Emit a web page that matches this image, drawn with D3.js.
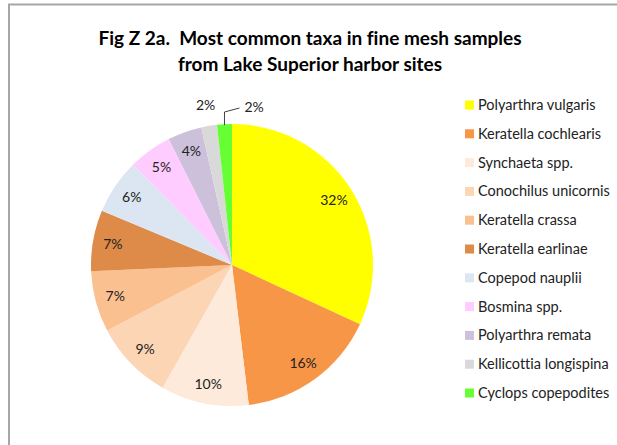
<!DOCTYPE html>
<html><head><meta charset="utf-8">
<script src="https://cdn.jsdelivr.net/npm/d3@7"></script>
<style>body{margin:0;background:#fff;}svg{display:block;}text{font-variant-ligatures:none;font-feature-settings:"liga" 0;white-space:pre;}</style>
</head><body>
<script>
const categories = ["Polyarthra vulgaris","Keratella cochlearis","Synchaeta spp.","Conochilus unicornis","Keratella crassa","Keratella earlinae","Copepod nauplii","Bosmina spp.","Polyarthra remata","Kellicottia longispina","Cyclops copepodites"];
const values = [31.9, 16.2, 10.1, 9.1, 7.0, 7.0, 6.3, 5.0, 3.9, 1.8, 1.7];
const colors = ["#FFFF00","#F79646","#FDEADA","#FCD5B5","#FAC090","#DE8A48","#DCE6F2","#FFCCFF","#CCC0DA","#D9D9D9","#66FF33"];
const titleLines = ["Fig Z 2a.  Most common taxa in fine mesh samples","from Lake Superior harbor sites"];

const W = 617, H = 445;
const font = "Lato, 'Open Sans', sans-serif";
const svg = d3.select("body").append("svg").attr("width", W).attr("height", H);
svg.append("rect").attr("x",0).attr("y",0).attr("width",W).attr("height",H).attr("fill","#fff");
// chart border (top & left visible)
svg.append("path").attr("d","M9,450 L9,4.5 L640,4.5").attr("fill","none").attr("stroke","#a6a6a6").attr("stroke-width",2);

svg.selectAll("text.title").data(titleLines).enter().append("text")
  .attr("class","title").attr("x",310).attr("y",(d,i)=>45+i*26)
  .attr("text-anchor","middle").attr("font-family",font).attr("font-weight","bold")
  .attr("font-size",19).attr("fill","#000").text(d=>d);

const cx = 232, cy = 265, R = 141;
const total = d3.sum(values);
const pie = d3.pie().sort(null).value(d=>d)(values);
const arc = d3.arc().innerRadius(0).outerRadius(R);
const g = svg.append("g").attr("transform",`translate(${cx},${cy})`);
g.selectAll("path").data(pie).enter().append("path")
  .attr("d",arc).attr("fill",(d,i)=>colors[i]);

const inArc = d3.arc().innerRadius(121).outerRadius(121);
const outArc = d3.arc().innerRadius(162).outerRadius(162);
const pct = v => Math.round(v/total*100) + "%";
pie.forEach((d,i)=>{
  let [x,y] = (i < 9) ? inArc.centroid(d) : outArc.centroid(d);
  if (i === 10) {
    const a = (d.startAngle+d.endAngle)/2;
    const px = R*Math.sin(a), py = -R*Math.cos(a);
    x = px + 20; y = -158;
    g.append("path").attr("d",`M${px},${py+1} L${px},${y+5} L${x-5},${y+1}`)
      .attr("fill","none").attr("stroke","#404040").attr("stroke-width",1);
  }
  g.append("text").attr("x",x).attr("y",y).attr("dy","0.35em")
    .attr("text-anchor", i===10 ? "start" : "middle")
    .attr("font-family",font).attr("font-size",14).attr("fill","#222")
    .text(pct(values[i]));
});

const leg = svg.append("g");
const ly = d3.scaleLinear().domain([0, categories.length-1]).range([105, 393]);
categories.forEach((c,i)=>{
  leg.append("rect").attr("x",465).attr("y",ly(i)-4.5).attr("width",9).attr("height",9).attr("fill",colors[i]);
  leg.append("text").attr("x",478).attr("y",ly(i)).attr("dy","0.35em")
    .attr("font-family",font).attr("font-size",14.5).attr("fill","#222").text(c);
});
</script>
</body></html>
